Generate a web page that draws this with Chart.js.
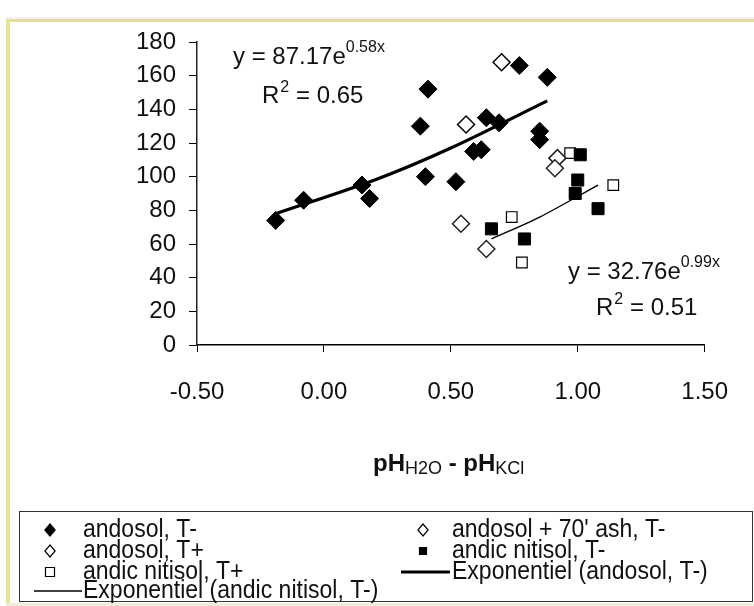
<!DOCTYPE html>
<html><head><meta charset="utf-8">
<script src="https://cdn.jsdelivr.net/npm/chart.js@4.4.1/dist/chart.umd.min.js"></script>
<style>html,body{margin:0;padding:0;background:#fff;}#wrap{width:754px;height:606px;position:relative}</style>
</head><body><div id="wrap"><canvas id="c" width="754" height="606"></canvas></div>
<script>
// ---- data ----
const seriesNames = ["andosol, T-", "andosol + 70' ash, T-", "andosol, T+", "andic nitisol, T-", "andic nitisol, T+", "Exponentiel (andosol, T-)", "Exponentiel (andic nitisol, T-)"];
const andosolTm_x = [-0.19, -0.08, 0.15, 0.18, 0.38, 0.40, 0.41, 0.52, 0.59, 0.62, 0.64, 0.69, 0.77, 0.85, 0.85, 0.88];
const andosolTm_y = [74, 86, 95, 87, 130, 100, 152, 97, 115, 116, 135, 132, 166, 127, 122, 159];
const ash_x = [0.70, 0.56];
const ash_y = [168, 131];
const andosolTp_x = [0.54, 0.64, 0.92, 0.91];
const andosolTp_y = [72, 57, 111, 105];
const nitisolTm_x = [1.01, 1.00, 0.99, 1.08, 0.79, 0.66];
const nitisolTm_y = [113, 98, 90, 81, 63, 69];
const nitisolTp_x = [0.97, 1.14, 0.74, 0.78];
const nitisolTp_y = [114, 95, 76, 49];
const trendAndosol_x = [-0.19, 0.20, 0.50, 0.88];
const trendAndosol_y = [78, 98, 117, 145];
const trendNitisol_x = [0.66, 0.85, 1.08];
const trendNitisol_y = [63, 76, 95];
const xTicks = [-0.5, 0, 0.5, 1.0, 1.5];
const yTicks = [0, 20, 40, 60, 80, 100, 120, 140, 160, 180];
const eqAndosol = ["y = 87.17e", "0.58x", "0.65"];
const eqNitisol = ["y = 32.76e", "0.99x", "0.51"];

const pts = (xs, ys) => xs.map((x, i) => ({x: x, y: ys[i]}));
const FONT = "'Liberation Sans', Arial, sans-serif";

const datasets = [
  {label: seriesNames[0], data: pts(andosolTm_x, andosolTm_y), pointStyle: 'rectRot', pointRadius: 9, backgroundColor: '#000', borderColor: '#000', borderWidth: 1},
  {label: seriesNames[1], data: pts(ash_x, ash_y), pointStyle: 'rectRot', pointRadius: 8.5, backgroundColor: '#fff', borderColor: '#000', borderWidth: 1.5},
  {label: seriesNames[2], data: pts(andosolTp_x, andosolTp_y), pointStyle: 'rectRot', pointRadius: 8.5, backgroundColor: '#fff', borderColor: '#222', borderWidth: 1.5},
  {label: seriesNames[3], data: pts(nitisolTm_x, nitisolTm_y), pointStyle: 'rect', pointRadius: 8.5, backgroundColor: '#000', borderColor: '#000', borderWidth: 1},
  {label: seriesNames[4], data: pts(nitisolTp_x, nitisolTp_y), pointStyle: 'rect', pointRadius: 7.5, backgroundColor: '#fff', borderColor: '#000', borderWidth: 1.2},
  {label: seriesNames[5], data: pts(trendAndosol_x, trendAndosol_y), showLine: true, pointRadius: 0, borderColor: '#000', borderWidth: 3.2, tension: 0.3},
  {label: seriesNames[6], data: pts(trendNitisol_x, trendNitisol_y), showLine: true, pointRadius: 0, borderColor: '#000', borderWidth: 1.4, tension: 0.3}
];

function drawMarker(ctx, style, fill, stroke, lw, x, y, r) {
  ctx.save();
  ctx.beginPath();
  if (style === 'rectRot') {
    ctx.moveTo(x, y - r); ctx.lineTo(x + r * 0.85, y); ctx.lineTo(x, y + r); ctx.lineTo(x - r * 0.85, y); ctx.closePath();
  } else {
    ctx.rect(x - r, y - r, 2 * r, 2 * r);
  }
  ctx.fillStyle = fill; ctx.fill();
  ctx.lineWidth = lw; ctx.strokeStyle = stroke; ctx.stroke();
  ctx.restore();
}

// condensed text (narrow look) drawn as real canvas text
function narrowText(ctx, txt, x, y) {
  ctx.save();
  ctx.translate(x, y);
  ctx.scale(0.92, 1);
  ctx.fillText(txt, 0, 0);
  ctx.restore();
}

const decor = {
  id: 'decor',
  beforeDraw(chart) {
    const ctx = chart.ctx;
    ctx.save();
    ctx.fillStyle = '#fff';
    ctx.fillRect(0, 0, chart.width, chart.height);
    ctx.fillStyle = '#f6eef4'; ctx.fillRect(6, 17, 748, 2);
    ctx.fillStyle = '#e2dea0'; ctx.fillRect(6, 19, 748, 3);
    ctx.fillStyle = '#e6e496'; ctx.fillRect(6, 19, 4, 587);
    ctx.fillStyle = '#f3ecdc'; ctx.fillRect(6, 603, 748, 3);
    ctx.restore();
  },
  afterDraw(chart) {
    const ctx = chart.ctx;
    ctx.save();
    ctx.fillStyle = '#111';
    ctx.textBaseline = 'alphabetic';
    ctx.textAlign = 'left';
    function eq(lines, x1, y1, x2, y2) {
      ctx.font = '24px ' + FONT;
      ctx.fillText(lines[0], x1, y1);
      const w = ctx.measureText(lines[0]).width;
      ctx.font = '16px ' + FONT;
      ctx.fillText(lines[1], x1 + w, y1 - 12);
      ctx.font = '24px ' + FONT;
      ctx.fillText('R', x2, y2);
      const wr = ctx.measureText('R').width;
      ctx.font = '16px ' + FONT;
      ctx.fillText('2', x2 + wr + 1, y2 - 11);
      ctx.font = '24px ' + FONT;
      ctx.fillText(' = ' + lines[2], x2 + wr + 10, y2);
    }
    eq(eqAndosol, 233, 64, 262, 103);
    eq(eqNitisol, 568, 279, 596, 315);

    // axis title pH(H2O) - pH(KCl)
    let x = 373; const by = 471;
    const parts = [['pH', 'bold 24px ', 0], ['H2O', '18px ', 3], [' - ', 'bold 24px ', 0], ['pH', 'bold 24px ', 0], ['KCl', '18px ', 3]];
    parts.forEach(p => {
      ctx.font = p[1] + FONT;
      ctx.fillText(p[0], x, by + p[2]);
      x += ctx.measureText(p[0]).width;
    });

    // legend box
    ctx.strokeStyle = '#333'; ctx.lineWidth = 1;
    ctx.strokeRect(19.5, 511.5, 733, 90);
    const colM = [50, 423], colT = [83, 452], rowY = [530, 551, 572, 591];
    const ds = chart.data.datasets;
    ctx.font = '25px ' + FONT;
    ctx.textBaseline = 'middle';
    ds.forEach((d, i) => {
      const col = i % 2, row = Math.floor(i / 2);
      const mx = colM[col], my = rowY[row];
      if (d.showLine) {
        ctx.save();
        ctx.strokeStyle = '#000'; ctx.lineWidth = d.borderWidth;
        ctx.beginPath();
        if (col === 1) { ctx.moveTo(401, my); ctx.lineTo(450, my); }
        else { ctx.moveTo(34, my); ctx.lineTo(82, my); }
        ctx.stroke();
        ctx.restore();
      } else {
        const r = d.pointStyle === 'rectRot' ? 6 : (d.backgroundColor === '#000' ? 3.5 : 4.5);
        drawMarker(ctx, d.pointStyle, d.backgroundColor, '#000', 1.2, mx, my, r);
      }
      ctx.fillStyle = '#111';
      narrowText(ctx, d.label, colT[col], my);
    });
    ctx.restore();
  }
};

new Chart(document.getElementById('c'), {
  type: 'scatter',
  data: {datasets: datasets},
  options: {
    responsive: false,
    animation: false,
    layout: {padding: {left: 97, top: 42, right: 46, bottom: 201}},
    plugins: {legend: {display: false}, tooltip: {enabled: false}},
    scales: {
      x: {
        type: 'linear', min: -0.5, max: 1.5,
        afterBuildTicks: s => { s.ticks = xTicks.map(v => ({value: v})); },
        ticks: {callback: v => Number(v).toFixed(2), font: {family: FONT, size: 24}, color: '#111', padding: 26, maxRotation: 0},
        grid: {drawOnChartArea: false, drawTicks: true, tickLength: 7, color: '#000', lineWidth: 1},
        border: {display: true, color: '#000', width: 1.5},
        afterFit: s => { s.height = 60; }
      },
      y: {
        min: 0, max: 180,
        afterBuildTicks: s => { s.ticks = yTicks.map(v => ({value: v})); },
        ticks: {font: {family: FONT, size: 24}, color: '#111', padding: 13},
        grid: {drawOnChartArea: false, drawTicks: true, tickLength: 8, color: '#000', lineWidth: 1},
        border: {display: true, color: '#222', width: 1.5},
        afterFit: s => { s.width = 100; }
      }
    }
  },
  plugins: [decor]
});
</script>
</body></html>
